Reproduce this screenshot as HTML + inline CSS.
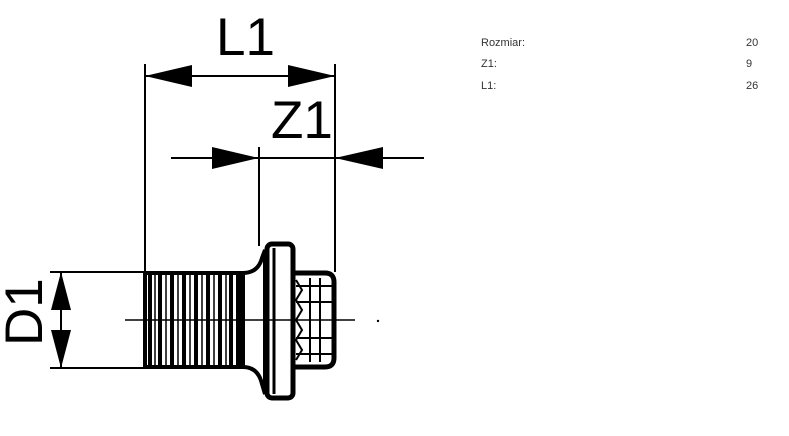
<!DOCTYPE html>
<html><head><style>
body{margin:0;background:#fff;width:789px;height:431px;overflow:hidden}
.t{font-family:"Liberation Sans",sans-serif;font-size:11px;fill:#333}
</style></head><body>
<svg width="789" height="431" xmlns="http://www.w3.org/2000/svg">
<g stroke="#000" stroke-width="2" fill="none">
<line x1="145" y1="64" x2="145" y2="272"/>
<line x1="335" y1="64" x2="335" y2="272"/>
<line x1="145" y1="76" x2="335" y2="76"/>
<line x1="259" y1="147" x2="259" y2="246"/>
<line x1="171" y1="158" x2="424" y2="158"/>
<line x1="50" y1="272" x2="150" y2="272"/>
<line x1="50" y1="368" x2="150" y2="368"/>
<line x1="61" y1="272" x2="61" y2="368"/>
<line x1="125" y1="320" x2="355" y2="320" stroke-width="1.5"/>
</g>
<g fill="#000">
<polygon points="145,76 192,65 192,87"/>
<polygon points="335,76 288,65 288,87"/>
<polygon points="259,158 212,147 212,169"/>
<polygon points="335,158 383,147 383,169"/>
<polygon points="61,272 51,310 71,310"/>
<polygon points="61,368 51,330 71,330"/>
<circle cx="378" cy="321" r="1.2"/>
</g>
<text x="216" y="55" font-family="Liberation Sans,sans-serif" font-size="53">L1</text>
<text x="271" y="138" font-family="Liberation Sans,sans-serif" font-size="53">Z1</text>
<text transform="translate(42,346) rotate(-90)" font-family="Liberation Sans,sans-serif" font-size="53">D1</text>
<g stroke="#000" fill="none">
<path d="M145,273 L243,273 Q258,273 262,258 L265,250 L265,394 L262,384 Q258,367 243,367 L145,367 Z" stroke-width="4"/>
<g stroke-width="4">
<line x1="150" y1="273" x2="150" y2="367"/><line x1="160" y1="273" x2="160" y2="367"/>
<line x1="172" y1="273" x2="172" y2="367"/><line x1="184" y1="273" x2="184" y2="367"/>
<line x1="196" y1="273" x2="196" y2="367"/><line x1="208" y1="273" x2="208" y2="367"/>
<line x1="220" y1="273" x2="220" y2="367"/><line x1="231" y1="273" x2="231" y2="367"/>
</g>
<g stroke-width="1.5">
<line x1="155" y1="273" x2="155" y2="367"/><line x1="166" y1="273" x2="166" y2="367"/>
<line x1="178" y1="273" x2="178" y2="367"/><line x1="190" y1="273" x2="190" y2="367"/>
<line x1="202" y1="273" x2="202" y2="367"/><line x1="214" y1="273" x2="214" y2="367"/>
<line x1="226" y1="273" x2="226" y2="367"/>
</g>
<rect x="236" y="273" width="9" height="94" fill="#000" stroke="none"/>
<rect x="267" y="244" width="26" height="154" rx="5" stroke-width="5"/>
<line x1="274" y1="248" x2="274" y2="394" stroke-width="3"/>
<path d="M293,273 L325,273 Q334,273 334,282 L334,358 Q334,367 325,367 L293,367" stroke-width="5"/>
<g stroke-width="2">
<line x1="296" y1="286" x2="334" y2="286"/><line x1="296" y1="302" x2="334" y2="302"/>
<line x1="296" y1="338" x2="334" y2="338"/><line x1="296" y1="354" x2="334" y2="354"/>
<line x1="310" y1="278" x2="310" y2="362"/><line x1="320" y1="278" x2="320" y2="362"/>
<path d="M296,280 L302,290 L296,300 L302,310 L296,320 L302,330 L296,340 L302,350 L296,360"/>
</g>
</g>
<text class="t" x="481" y="46">Rozmiar:</text><text class="t" x="746" y="46">20</text>
<text class="t" x="481" y="67">Z1:</text><text class="t" x="746" y="67">9</text>
<text class="t" x="481" y="89">L1:</text><text class="t" x="746" y="89">26</text>
</svg>
</body></html>
